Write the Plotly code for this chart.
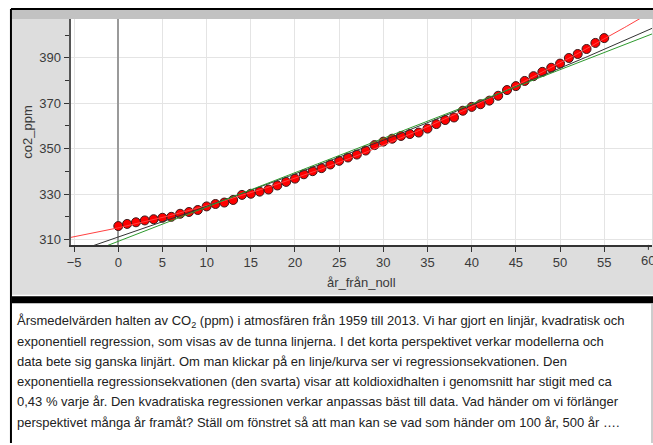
import numpy as np
import plotly.graph_objects as go

# Annual mean CO2 at Mauna Loa, 1959-2014 (x = years after 1959)
ar_fran_noll = list(range(0, 56))
co2_ppm = [
    315.97, 316.91, 317.64, 318.45, 318.99, 319.62, 320.04, 321.38, 322.16, 323.04,
    324.62, 325.68, 326.32, 327.45, 329.68, 330.18, 331.11, 332.04, 333.83, 335.40,
    336.84, 338.75, 340.11, 341.45, 343.05, 344.65, 346.12, 347.42, 349.19, 351.57,
    353.12, 354.39, 355.61, 356.45, 357.10, 358.83, 360.82, 362.61, 363.73, 366.70,
    368.38, 369.55, 371.14, 373.28, 375.80, 377.52, 379.80, 381.90, 383.79, 385.60,
    387.43, 389.90, 391.65, 393.85, 396.52, 398.65,
]

x_ticks = [-5, 0, 5, 10, 15, 20, 25, 30, 35, 40, 45, 50, 55, 60]
y_ticks = [310, 330, 350, 370, 390]

text_lines = [
    "Årsmedelvärden halten av CO<sub>2</sub> (ppm) i atmosfären från 1959 till 2013. Vi har gjort en linjär, kvadratisk och",
    "exponentiell regression, som visas av de tunna linjerna. I det korta perspektivet verkar modellerna och",
    "data bete sig ganska linjärt. Om man klickar på en linje/kurva ser vi regressionsekvationen. Den",
    "exponentiella regressionsekvationen (den svarta) visar att koldioxidhalten i genomsnitt har stigit med ca",
    "0,43 % varje år. Den kvadratiska regressionen verkar anpassas bäst till data. Vad händer om vi förlänger",
    "perspektivet många år framåt? Ställ om fönstret så att man kan se vad som händer om 100 år, 500 år ….",
]

W, H = 653, 445
X_RANGE = [-5.40, 60.41]
Y_RANGE = [307.69, 407.08]

x = np.array(ar_fran_noll, dtype=float)
y = np.array(co2_ppm, dtype=float)

# Regressions: linear, quadratic and exponential (y = a*b^x via ln y)
lin = np.polyfit(x, y, 1)
quad = np.polyfit(x, y, 2)
ln_fit = np.polyfit(x, np.log(y), 1)

xs = np.linspace(X_RANGE[0], X_RANGE[1], 300)
y_lin = np.polyval(lin, xs)
y_quad = np.polyval(quad, xs)
y_exp = np.exp(np.polyval(ln_fit, xs))


def px(v):
    return v / W


def py(v):
    return 1 - v / H


fig = go.Figure()

fig.add_trace(go.Scatter(
    x=x, y=y, mode="markers",
    marker=dict(color="#ff0000", size=9, line=dict(color="#3a1a1a", width=1)),
    hoverinfo="skip", showlegend=False,
))
fig.add_trace(go.Scatter(x=xs, y=y_quad, mode="lines",
                         line=dict(color="#ff4040", width=1), showlegend=False))
fig.add_trace(go.Scatter(x=xs, y=y_exp, mode="lines",
                         line=dict(color="#333333", width=1), showlegend=False))
fig.add_trace(go.Scatter(x=xs, y=y_lin, mode="lines",
                         line=dict(color="#2e9a2e", width=1), showlegend=False))

tick_font = dict(family="Liberation Sans, Arial, sans-serif", size=13, color="#3a3a3a")

# the last tick label sits on the window edge; it is drawn separately below
x_labels = [str(t).replace("-", "−") for t in x_ticks[:-1]]

fig.update_xaxes(
    domain=[px(67), px(652)], range=X_RANGE,
    tickvals=x_ticks[:-1], ticktext=x_labels,
    ticks="outside", ticklen=5, tickcolor="#333333", tickwidth=1,
    showgrid=True, gridcolor="#e4e4e4", gridwidth=1,
    zeroline=True, zerolinecolor="#9a9a9a", zerolinewidth=1.5,
    showline=True, linecolor="#333333", linewidth=1.5,
    tickfont=tick_font,
    title=dict(text="år_från_noll", font=tick_font, standoff=9),
)
fig.update_yaxes(
    domain=[py(246), py(19)], range=Y_RANGE,
    tickvals=y_ticks,
    ticks="outside", ticklen=5, tickcolor="#333333", tickwidth=1,
    minor=dict(dtick=10, tick0=300, ticks="outside", ticklen=4,
               tickcolor="#333333", showgrid=False),
    showgrid=True, gridcolor="#e4e4e4", gridwidth=1,
    zeroline=False,
    showline=True, linecolor="#555555", linewidth=2,
    tickfont=tick_font,
    title=dict(text="co2_ppm", font=tick_font, standoff=4),
)

shapes = [
    # graph panel background
    dict(type="rect", xref="paper", yref="paper", x0=px(8), x1=1, y0=py(296), y1=py(10),
         fillcolor="#dddddd", line=dict(width=0), layer="below"),
    # white plotting window
    dict(type="rect", xref="paper", yref="paper", x0=px(67), x1=px(652), y0=py(246), y1=py(19),
         fillcolor="#ffffff", line=dict(width=0), layer="below"),
    # title bar strip
    dict(type="rect", xref="paper", yref="paper", x0=px(8), x1=1, y0=py(19), y1=py(10),
         fillcolor="#c2c2c2", line=dict(width=0), layer="below"),
    # outer frame
    dict(type="line", xref="paper", yref="paper", x0=px(7), x1=1, y0=py(9), y1=py(9),
         line=dict(color="#000000", width=2)),
    dict(type="line", xref="paper", yref="paper", x0=px(7), x1=px(7), y0=py(9), y1=0,
         line=dict(color="#000000", width=2)),
    # divider between graph and notes
    dict(type="rect", xref="paper", yref="paper", x0=px(8), x1=1, y0=py(304.5), y1=py(297.5),
         fillcolor="#000000", line=dict(width=0)),
    # right edge of the notes box
    dict(type="line", xref="paper", yref="paper", x0=px(652), x1=px(652), y0=0, y1=py(305),
         line=dict(color="#9a9a9a", width=1)),
    # tick mark for the edge label
    dict(type="line", xref="x", yref="paper", x0=x_ticks[-1], x1=x_ticks[-1],
         y0=py(246), y1=py(251), line=dict(color="#333333", width=1)),
]

annotations = [dict(
    xref="x", yref="paper", x=x_ticks[-1], y=py(262), xanchor="center", yanchor="middle",
    showarrow=False, text=str(x_ticks[-1]), font=tick_font,
)]
for i, line in enumerate(text_lines):
    annotations.append(dict(
        xref="paper", yref="paper", x=px(11), y=py(322.5 + 20.3 * i),
        xanchor="left", yanchor="middle", showarrow=False, align="left",
        text=line,
        font=dict(family="Liberation Sans, Arial, sans-serif", size=13, color="#222222"),
    ))

fig.update_layout(
    width=W, height=H,
    margin=dict(l=0, r=0, t=0, b=0),
    paper_bgcolor="#ffffff", plot_bgcolor="#ffffff",
    shapes=shapes, annotations=annotations,
    showlegend=False,
)

fig.write_html("out.html")
